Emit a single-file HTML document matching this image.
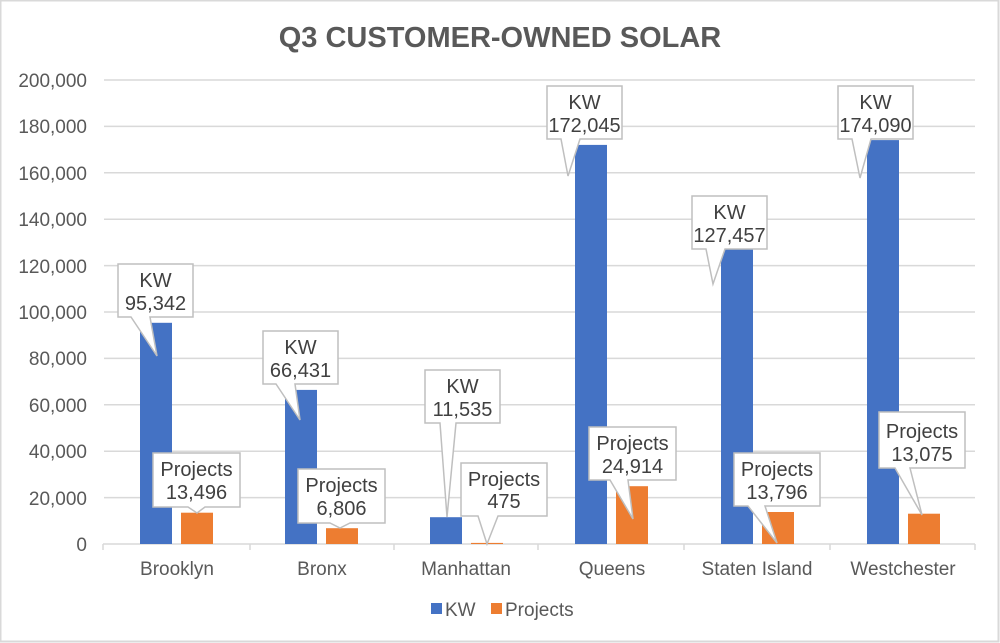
<!DOCTYPE html>
<html><head><meta charset="utf-8"><style>
html,body{margin:0;padding:0;background:#fff}
svg{display:block;font-family:"Liberation Sans",Arial,sans-serif}
</style></head><body>
<svg width="1000" height="643" viewBox="0 0 1000 643" xmlns="http://www.w3.org/2000/svg">
<rect x="0.5" y="0.5" width="998" height="641" fill="#fff" stroke="#d9d9d9" stroke-width="2"/>
<text x="500" y="47" text-anchor="middle" font-size="29" font-weight="bold" fill="#595959">Q3 CUSTOMER-OWNED SOLAR</text>
<g stroke="#d9d9d9" stroke-width="1.5">
<line x1="104" x2="975" y1="80" y2="80"/><line x1="104" x2="975" y1="126.4" y2="126.4"/>
<line x1="104" x2="975" y1="172.8" y2="172.8"/><line x1="104" x2="975" y1="219.2" y2="219.2"/>
<line x1="104" x2="975" y1="265.6" y2="265.6"/><line x1="104" x2="975" y1="312" y2="312"/>
<line x1="104" x2="975" y1="358.4" y2="358.4"/><line x1="104" x2="975" y1="404.8" y2="404.8"/>
<line x1="104" x2="975" y1="451.2" y2="451.2"/><line x1="104" x2="975" y1="497.6" y2="497.6"/>
<line x1="103" x2="975" y1="544" y2="544"/>
<line x1="103" x2="103" y1="544" y2="550"/><line x1="250" x2="250" y1="544" y2="550"/>
<line x1="394" x2="394" y1="544" y2="550"/><line x1="538" x2="538" y1="544" y2="550"/>
<line x1="684" x2="684" y1="544" y2="550"/><line x1="830" x2="830" y1="544" y2="550"/>
<line x1="975" x2="975" y1="544" y2="550"/>
</g>
<g font-size="19" fill="#595959" text-anchor="end">
<text x="87" y="87">200,000</text><text x="87" y="133">180,000</text><text x="87" y="180">160,000</text>
<text x="87" y="226">140,000</text><text x="87" y="273">120,000</text><text x="87" y="319">100,000</text>
<text x="87" y="365">80,000</text><text x="87" y="412">60,000</text><text x="87" y="458">40,000</text>
<text x="87" y="505">20,000</text><text x="87" y="551">0</text>
</g>
<g font-size="19" fill="#595959" text-anchor="middle">
<text x="177" y="575">Brooklyn</text><text x="322" y="575">Bronx</text><text x="466" y="575">Manhattan</text>
<text x="612" y="575">Queens</text><text x="757" y="575">Staten Island</text><text x="903" y="575">Westchester</text>
</g>
<g fill="#4472c4">
<rect x="140" y="322.8" width="32" height="221.2"/>
<rect x="285" y="389.9" width="32" height="154.1"/>
<rect x="430" y="517.2" width="32" height="26.8"/>
<rect x="575" y="144.9" width="32" height="399.1"/>
<rect x="721" y="248.3" width="32" height="295.7"/>
<rect x="867" y="140.1" width="32" height="403.9"/>
</g>
<g fill="#ed7d31">
<rect x="181" y="512.7" width="32" height="31.3"/>
<rect x="326" y="528.2" width="32" height="15.8"/>
<rect x="471" y="542.9" width="32" height="1.1"/>
<rect x="616" y="486.2" width="32" height="57.8"/>
<rect x="762" y="512" width="32" height="32"/>
<rect x="908" y="513.7" width="32" height="30.3"/>
</g>
<g fill="#fff" stroke="#bfbfbf" stroke-width="1.5">
<path d="M118 264H193V317H150L157 356L131 317H118Z"/>
<path d="M263 331H338V384H295L300 420L276 384H263Z"/>
<path d="M425 370H500V423H456L447 517L440 423H425Z"/>
<path d="M547 86H622V139H580L568 176L561 139H547Z"/>
<path d="M692 196H767V249H725L713 284L706 249H692Z"/>
<path d="M838 86H913V139H871L860 178L852 139H838Z"/>
<path d="M153 453H240V507H205L197 513L188 507H153Z"/>
<path d="M298 469H385V523H350L340 528L330 523H298Z"/>
<path d="M461 463H547V516H498L487 544L478 516H461Z"/>
<path d="M589 427H676V480H628L633 519L610 480H589Z"/>
<path d="M734 453H820V506H765L777 543L748 506H734Z"/>
<path d="M879 412H965V468H910L922 515L895 468H879Z"/>
</g>
<g font-size="20" fill="#404040" text-anchor="middle">
<text x="155.5" y="287">KW</text><text x="155.5" y="310">95,342</text>
<text x="300.5" y="354">KW</text><text x="300.5" y="377">66,431</text>
<text x="462.5" y="393">KW</text><text x="462.5" y="416">11,535</text>
<text x="584.5" y="109">KW</text><text x="584.5" y="132">172,045</text>
<text x="729.5" y="219">KW</text><text x="729.5" y="242">127,457</text>
<text x="875.5" y="109">KW</text><text x="875.5" y="132">174,090</text>
<text x="196.5" y="476">Projects</text><text x="196.5" y="499">13,496</text>
<text x="341.5" y="492">Projects</text><text x="341.5" y="515">6,806</text>
<text x="504" y="486">Projects</text><text x="504" y="508">475</text>
<text x="632.5" y="450">Projects</text><text x="632.5" y="473">24,914</text>
<text x="777" y="476">Projects</text><text x="777" y="499">13,796</text>
<text x="922" y="438">Projects</text><text x="922" y="461">13,075</text>
</g>
<rect x="431" y="603" width="11" height="11" fill="#4472c4"/>
<text x="445" y="616" font-size="19" fill="#595959">KW</text>
<rect x="491" y="603" width="11" height="11" fill="#ed7d31"/>
<text x="505" y="616" font-size="19" fill="#595959">Projects</text>
</svg>
</body></html>
